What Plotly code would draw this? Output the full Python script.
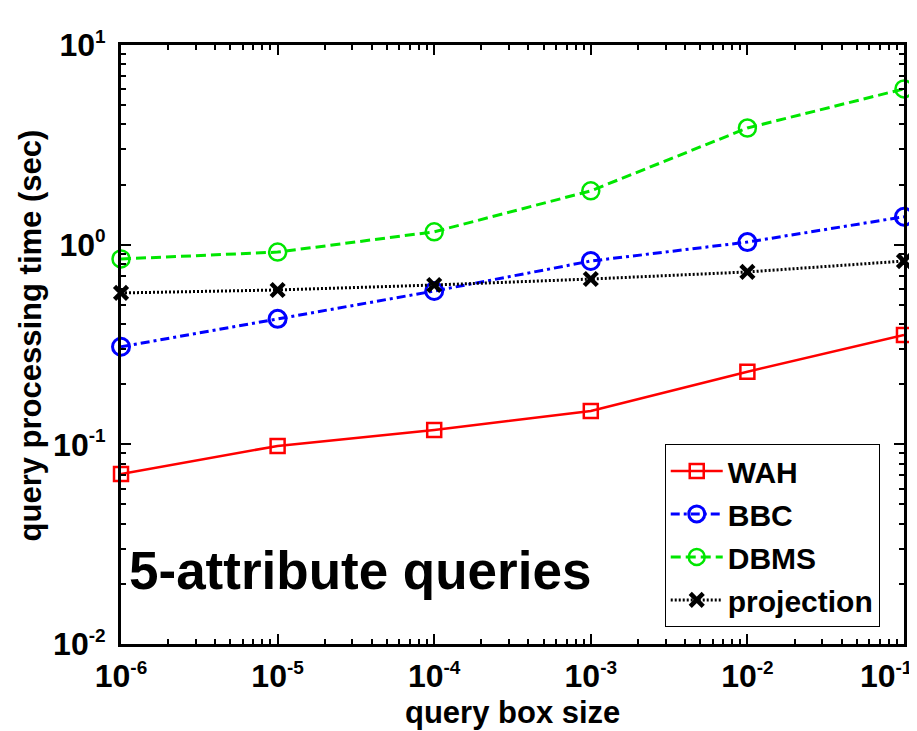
import plotly.graph_objects as go

# ---- data ----
box_sizes = [1e-6, 1e-5, 1e-4, 1e-3, 1e-2, 1e-1]
wah = [0.0711, 0.0982, 0.118, 0.147, 0.231, 0.353]
bbc = [0.308, 0.425, 0.586, 0.828, 1.03, 1.38]
dbms = [0.848, 0.918, 1.16, 1.86, 3.84, 6.03]
projection = [0.573, 0.593, 0.628, 0.673, 0.73, 0.828]

x_tick_vals = [1e-6, 1e-5, 1e-4, 1e-3, 1e-2, 1e-1]
x_exponents = ["-6", "-5", "-4", "-3", "-2", "-1"]
y_tick_vals = [1e-2, 1e-1, 1e0, 1e1]
y_exponents = ["-2", "-1", "0", "1"]

x_title = "query box size"
y_title = "query processing time (sec)"
note_text = "5-attribute queries"

x_minor = [m * 10.0 ** e for e in range(-6, -1) for m in range(2, 10)]
y_minor = [m * 10.0 ** e for e in range(-2, 1) for m in range(2, 10)]

FONT = "Liberation Sans, Arial, Helvetica, sans-serif"


def pow_label(exp):
    return "10<sup><span style='font-size:19px'>" + exp + "</span></sup>"


x_tick_text = [pow_label(e) for e in x_exponents]
# last label sits at the figure edge: nudge it left like the original
x_tick_text[-1] = x_tick_text[-1] + "&nbsp;&nbsp;&nbsp;&nbsp;"

fig = go.Figure()
fig.add_trace(go.Scatter(
    x=box_sizes, y=wah, name="WAH", mode="lines+markers", cliponaxis=False,
    line=dict(color="rgb(255,0,0)", width=2.5),
    marker=dict(symbol="square-open", size=14, color="rgb(255,0,0)", line=dict(width=2.5)),
    legendgroup="a"))
fig.add_trace(go.Scatter(
    x=box_sizes, y=bbc, name="BBC", mode="lines+markers", cliponaxis=False,
    line=dict(color="rgb(0,0,255)", width=3, dash="9px,4px,3px,4px"),
    marker=dict(symbol="circle-open", size=17, color="rgb(0,0,255)", line=dict(width=3)),
    legendgroup="b"))
fig.add_trace(go.Scatter(
    x=box_sizes, y=dbms, name="DBMS", mode="lines+markers", cliponaxis=False,
    line=dict(color="rgb(0,230,0)", width=3, dash="10px,5px"),
    marker=dict(symbol="circle-open", size=17, color="rgb(0,230,0)", line=dict(width=2.5)),
    legendgroup="c"))
fig.add_trace(go.Scatter(
    x=box_sizes, y=projection, name="projection", mode="lines+markers", cliponaxis=False,
    line=dict(color="black", width=3, dash="2px,2px"),
    marker=dict(symbol="x-thin", size=13, color="black", line=dict(width=4.5, color="black")),
    legendgroup="d"))

axis_common = dict(
    type="log", showgrid=False, zeroline=False, automargin=False,
    showline=True, linecolor="black", linewidth=3, mirror="allticks",
    ticks="inside", ticklen=10, tickwidth=2, tickcolor="black",
    tickfont=dict(family=FONT, size=32, color="black", weight="bold"),
    tickmode="array", ticklabeloverflow="allow",
)

fig.update_xaxes(
    **axis_common,
    range=[-6.0001, -0.9999],
    tickvals=x_tick_vals, ticktext=x_tick_text,
    ticklabelstandoff=2,
    minor=dict(tickmode="array", tickvals=x_minor, ticks="inside", ticklen=5,
               tickwidth=2, tickcolor="black"),
)
fig.update_yaxes(
    **axis_common,
    range=[-2.0001, 1.0001],
    tickvals=y_tick_vals, ticktext=[pow_label(e) for e in y_exponents],
    ticklabelstandoff=6,
    minor=dict(tickmode="array", tickvals=y_minor, ticks="inside", ticklen=5,
               tickwidth=2, tickcolor="black"),
)

title_font = dict(family=FONT, size=31, color="black", weight="bold")
fig.add_annotation(
    x=0.5, y=-0.114, xref="paper", yref="paper", xanchor="center", yanchor="middle",
    text=x_title, showarrow=False, font=title_font)
fig.add_annotation(
    x=-0.115, y=0.515, xref="paper", yref="paper", xanchor="center", yanchor="middle",
    text=y_title, showarrow=False, textangle=-90, font=title_font)

fig.add_annotation(
    x=0.008, y=0.122, xref="paper", yref="paper", xanchor="left", yanchor="middle",
    text=note_text, showarrow=False,
    font=dict(family=FONT, size=53, color="black", weight="bold"),
)

fig.update_layout(
    width=917, height=731,
    margin=dict(l=113, r=21, t=37, b=95),
    paper_bgcolor="white", plot_bgcolor="white",
    legend=dict(
        x=0.969, y=0.334, xanchor="right", yanchor="top",
        bgcolor="white", bordercolor="black", borderwidth=1,
        font=dict(family=FONT, size=30, color="black", weight="bold"),
        itemwidth=52, tracegroupgap=1,
    ),
)

fig.write_html("out.html")
